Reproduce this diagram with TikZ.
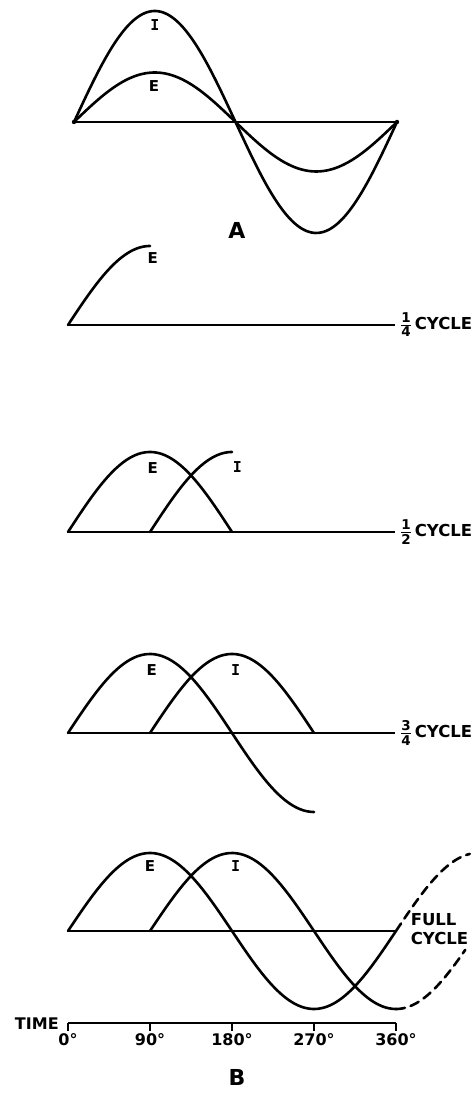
\documentclass[tikz,border=0pt]{standalone}
\usepackage{amsmath}
\usepackage{fontspec}
\setmainfont{DejaVu Sans}
\newfontfamily\barfont{DejaVu Sans Mono}
\usetikzlibrary{positioning}
\tikzset{
  wave/.style={line width=2.6pt,line cap=round,smooth,samples=72},
  future/.style={wave,dash pattern=on 9pt off 6pt},
  axisline/.style={line width=2pt},
  tickline/.style={line width=1.8pt},
  curvelabel/.style={font=\bfseries\fontsize{15}{15}\selectfont,inner sep=0pt},
  cyclelabel/.style={font=\bfseries\fontsize{16.5}{18.5}\selectfont,inner sep=0pt,
    anchor=west,align=left},
  partlabel/.style={font=\bfseries\fontsize{22}{22}\selectfont,inner sep=0pt},
  degree/.style={font=\bfseries\fontsize{16}{16}\selectfont,inner sep=0pt,anchor=north}
}
\newcommand{\cyclefrac}[2]{$\genfrac{}{}{1.2pt}{}%
  {\mbox{\bfseries\fontsize{13.5}{13.5}\selectfont #1}}%
  {\mbox{\bfseries\fontsize{13.5}{13.5}\selectfont #2}}$}

\begin{document}
\begin{tikzpicture}[x=1pt,y=1pt]
  \useasboundingbox (0,0) rectangle (476,1095);
  % A: current and voltage in phase
  \coordinate (a0) at (74,973);
  \coordinate (a1) at (397,973);
  \draw[axisline] (a0) -- (a1);
  \begin{scope}[xshift=74pt,x=0.8972pt]
    \draw[wave] plot[domain=0:360] (\x,{973+111*sin(\x)});
    \draw[wave] plot[domain=0:360] (\x,{973+49.5*sin(\x)});
  \end{scope}
  \fill (a0) circle (2.2pt) (a1) circle (2.2pt);
  \node[curvelabel] (iA) at (155,1070) {\barfont I};
  \node[curvelabel] (eA) at (154,1009) {E};
  \node[partlabel] (A) at (237,865) {A};
  % B: build-up cycle by cycle, x in degrees
  \begin{scope}[xshift=68pt,x=0.9111pt]
    % quarter cycle
    \coordinate (q0) at (0,770);
    \coordinate (q1) at (359,770);
    \draw[axisline] (q0) -- (q1);
    \draw[wave] plot[domain=0:90] (\x,{770+79*sin(\x)});
    \node[curvelabel] (eq) at (93,837) {E};
    \node[cyclelabel,right=5pt of q1] (lq) {\cyclefrac14\,CYCLE};
    % half cycle
    \coordinate (h0) at (0,563);
    \coordinate (h1) at (359,563);
    \draw[axisline] (h0) -- (h1);
    \draw[wave] plot[domain=0:180] (\x,{563+80*sin(\x)});
    \draw[wave] plot[domain=90:180] (\x,{563+80*sin(\x-90)});
    \node[curvelabel] (eh) at (93,627) {E};
    \node[curvelabel] (ih) at (186,628) {\barfont I};
    \node[cyclelabel,right=5pt of h1] (lh) {\cyclefrac12\,CYCLE};
    % three quarter cycle
    \coordinate (t0) at (0,362);
    \coordinate (t1) at (359,362);
    \draw[axisline] (t0) -- (t1);
    \draw[wave] plot[domain=0:270] (\x,{362+79*sin(\x)});
    \draw[wave] plot[domain=90:270] (\x,{362+79*sin(\x-90)});
    \node[curvelabel] (et) at (92,425) {E};
    \node[curvelabel] (it) at (184,425) {\barfont I};
    \node[cyclelabel,right=5pt of t1] (lt) {\cyclefrac34\,CYCLE};
    % full cycle
    \coordinate (f0) at (0,164);
    \coordinate (f1) at (360,164);
    \draw[axisline] (f0) -- (f1);
    \draw[wave] plot[domain=0:360] (\x,{164+78*sin(\x)});
    \draw[wave] plot[domain=90:360] (\x,{164+78*sin(\x-90)});
    \draw[future] plot[domain=360:441] (\x,{164+78*sin(\x)});
    \draw[future] plot[domain=360:436] (\x,{164+78*sin(\x-90)});
    \node[curvelabel] (ef) at (90,229) {E};
    \node[curvelabel] (if) at (184,229) {\barfont I};
    \node[cyclelabel] (lf) at (376,166) {FULL\\CYCLE};
    % time axis
    \coordinate (s0) at (0,72);
    \coordinate (s1) at (360,72);
    \draw[axisline] (s0) -- (s1);
    \foreach \d in {0,90,180,270,360} {
      \coordinate (tk\d) at (\d,72);
      \draw[tickline] (tk\d) -- ++(0,-8);
      \node[degree] (deg\d) at (\d,62) {\d°};
    }
    \node[degree,anchor=east] (time) at (-10,71) {TIME};
  \end{scope}
  \node[partlabel] (B) at (237,18) {B};
\end{tikzpicture}
\end{document}
